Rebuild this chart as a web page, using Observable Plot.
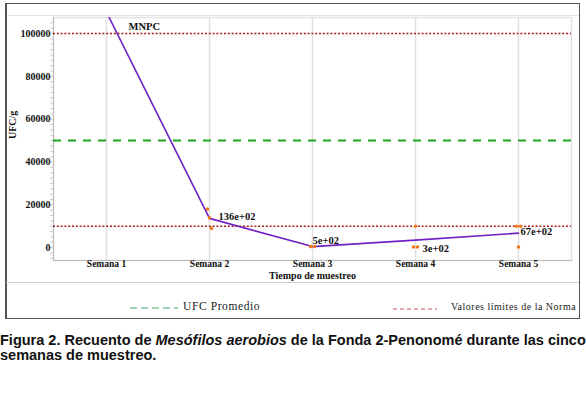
<!DOCTYPE html>
<html><head><meta charset="utf-8">
<script src="https://cdn.jsdelivr.net/npm/d3@7"></script>
<script src="https://cdn.jsdelivr.net/npm/@observablehq/plot@0.6"></script>
<style>
body{margin:0;background:#fff;}
#wrap{position:relative;width:586px;height:393px;overflow:hidden;}
#box{position:absolute;left:5px;top:3px;width:572px;height:314px;border:1.5px solid #555;border-left-width:2px;}
#sep{position:absolute;left:6px;top:282px;width:573px;height:0;border-top:1px solid #ccc;}
#topline{position:absolute;left:7px;top:15px;width:572px;height:0;border-top:1px solid #e4e4e4;}
.leg{position:absolute;font-family:"Liberation Serif",serif;font-size:11.5px;letter-spacing:0.6px;color:#222;}
#cap{position:absolute;left:0;top:333px;width:600px;font-family:"Liberation Sans",Arial,sans-serif;font-weight:bold;font-size:14.5px;line-height:15px;color:#111;white-space:nowrap;}
</style></head>
<body><div id="wrap">
<div id="box"></div>
<div id="topline"></div>
<div id="chart" style="position:absolute;left:0;top:0"></div>
<div id="sep"></div>
<svg style="position:absolute;left:128px;top:304px" width="52" height="8"><line x1="2" x2="50" y1="4" y2="4" stroke="#7cc79a" stroke-width="1.5" stroke-dasharray="7,4"/></svg>
<div class="leg" style="left:183px;top:300px">UFC Promedio</div>
<svg style="position:absolute;left:391px;top:306px" width="48" height="6"><line x1="2" x2="46" y1="3" y2="3" stroke="#c85a5a" stroke-width="1" stroke-dasharray="4,3"/></svg>
<div class="leg" style="left:451px;top:301px;font-size:10px;letter-spacing:0.5px">Valores límites de la Norma</div>
<div id="cap">Figura 2. Recuento de <i>Mesófilos aerobios</i> de la Fonda 2-Penonomé durante las cinco<br>semanas de muestreo.</div>
</div>
<script>
const weeks = ["Semana 1","Semana 2","Semana 3","Semana 4","Semana 5"];
const meanUFC = [110000, 13667, 500, 3533, 6767];
const repA = [null, 18000, 500, 300, 10000];
const repB = [null, 9000, 500, 300, 10000];
const repC = [null, 14000, null, 10000, 300];
const pointLabels = ["MNPC","136e+02","5e+02","3e+02","67e+02"];
const normLimits = [100000, 10000];
const promedio = [50000];
const yTicks = [0,20000,40000,60000,80000,100000];

const rows = weeks.map((w,i)=>({week:w, mean:meanUFC[i], a:repA[i], b:repB[i], c:repC[i], label:pointLabels[i]}));
const lab = (i, o) => Plot.text([rows[i]], Object.assign({x:"week", y:"mean", text:"label", textAnchor:"start", fontWeight:"bold", fontSize:10.5, fill:"#111"}, o));

const chart = Plot.plot({
  width:586, height:320,
  marginLeft:53, marginRight:15, marginTop:17, marginBottom:60,
  style:{fontFamily:"Liberation Serif, serif", fontSize:"10px", color:"#111", background:"transparent"},
  x:{type:"point", domain:weeks, padding:0.5},
  y:{domain:[-6000,107500]},
  marks:[
    Plot.frame({stroke:"#e2e2e2", strokeWidth:1.5}),
    Plot.gridX(weeks, {stroke:"#e0e0e0", strokeOpacity:1, strokeWidth:1.5}),
    Plot.frame({anchor:"left", stroke:"#bbb"}),
    Plot.frame({anchor:"bottom", stroke:"#bbb"}),
    Plot.axisY(d3.range(-5000,107500,2500), {text:null, tickSize:3, stroke:"#ccc", label:null}),
    Plot.axisY(yTicks, {tickFormat:d=>String(d), tickSize:0, tickPadding:3, fontWeight:"bold", fontSize:10, label:null}),
    Plot.text(["UFC/g"], {frameAnchor:"left", dx:-41, rotate:-90, fontWeight:"bold", fontSize:10}),
    Plot.axisX(weeks, {tickSize:0, tickPadding:0, fontWeight:"bold", fontSize:9.5, label:null}),
    Plot.text(["Tiempo de muestreo"], {frameAnchor:"bottom", dy:18, fontWeight:"bold", fontSize:10}),
    Plot.ruleY(normLimits, {stroke:"#a81c1c", strokeWidth:1.6, strokeDasharray:"2,1.8"}),
    Plot.ruleY(promedio, {stroke:"#1ca51c", strokeWidth:2, strokeDasharray:"8,7"}),
    Plot.line(rows, {x:"week", y:"mean", stroke:"#7222c2", strokeWidth:1.6, clip:true}),
    Plot.dot(rows.filter(d=>d.a!=null), {x:"week", y:"a", r:1.8, fill:"#f07818", dx:-2}),
    Plot.dot(rows.filter(d=>d.b!=null), {x:"week", y:"b", r:1.8, fill:"#f07818", dx:2}),
    Plot.dot(rows.filter(d=>d.c!=null), {x:"week", y:"c", r:1.8, fill:"#f07818"}),
    Plot.text([rows[0]], {x:"week", frameAnchor:"top", text:"label", textAnchor:"start", fontWeight:"bold", fontSize:10.5, fill:"#111", dx:22, dy:5}),
    lab(1, {dx:9, dy:-2}),
    lab(2, {dx:0, dy:-6}),
    lab(3, {dx:7, dy:9}),
    lab(4, {dx:2, dy:-2})
  ]
});
document.getElementById("chart").appendChild(chart);
</script>
</body></html>
